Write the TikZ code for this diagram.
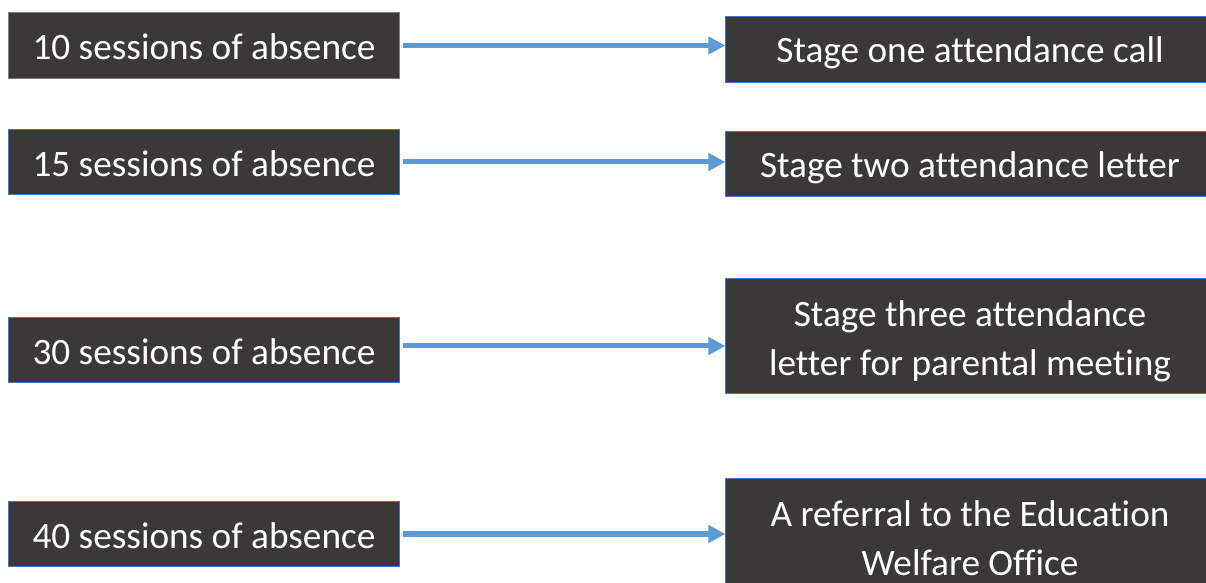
\documentclass[tikz,border=0pt]{standalone}
\usepackage{fontspec}
\setmainfont{Carlito}[Ligatures={NoCommon}]
\usepackage{xcolor}
\usetikzlibrary{arrows.meta,positioning,calc}

\definecolor{boxfill}{HTML}{3B3838}
\definecolor{boxblue}{HTML}{4472C4}
\definecolor{boxgray}{HTML}{7F7F7F}
\definecolor{arrowblue}{HTML}{5B9BD5}

\begin{document}
\begin{tikzpicture}[x=0.025cm,y=-0.025cm,
  box/.style={draw=boxblue, fill=boxfill, text=white, line width=0.7pt, inner sep=0pt, font=\fontsize{26.5}{34.85}\selectfont},
  count/.style={box, minimum width=9.75cm, minimum height=1.625cm, text height=0.75cm, text depth=0.05cm},
  stage/.style={box, minimum width=12.2cm, minimum height=1.625cm, text height=0.7cm, text depth=0.05cm},
  stagelong/.style={box, minimum width=12.2cm, minimum height=2.85cm, align=center, text height=1.95cm, text depth=0cm},
  flow/.style={draw=arrowblue, line width=0.125cm, -{Triangle[length=0.425cm,width=0.425cm]}, shorten <=0.075cm}]

\useasboundingbox (0,0) rectangle (1206,583);

% sessions of absence
\node[count, draw=boxgray] (ten) at (204,45.5) {10 sessions of absence};
\node[count] (fifteen) at (204,162) {15 sessions of absence};
\node[count] (thirty) at (204,350) {30 sessions of absence};
\node[count] (forty) at (204,534) {40 sessions of absence};

% what happens (boxes run off the right edge)
\node[stage] (call) at (970,49.5) {Stage one attendance call};
\node[stage] (letter) at (970,164) {Stage two attendance letter};
\node[stagelong] (meeting) at (970,336) {Stage three attendance\\letter for parental meeting};
\node[stagelong] (referral) at (970,536) {A referral to the Education\\Welfare Office};

\coordinate (thirtyout) at ($(thirty.east)+(0,-4)$);

\draw[flow] (ten.east) -- (ten.east -| call.west);
\draw[flow] (fifteen.east) -- (fifteen.east -| letter.west);
\draw[flow] (thirtyout) -- (thirtyout -| meeting.west);
\draw[flow] (forty.east) -- (forty.east -| referral.west);
\end{tikzpicture}
\end{document}
